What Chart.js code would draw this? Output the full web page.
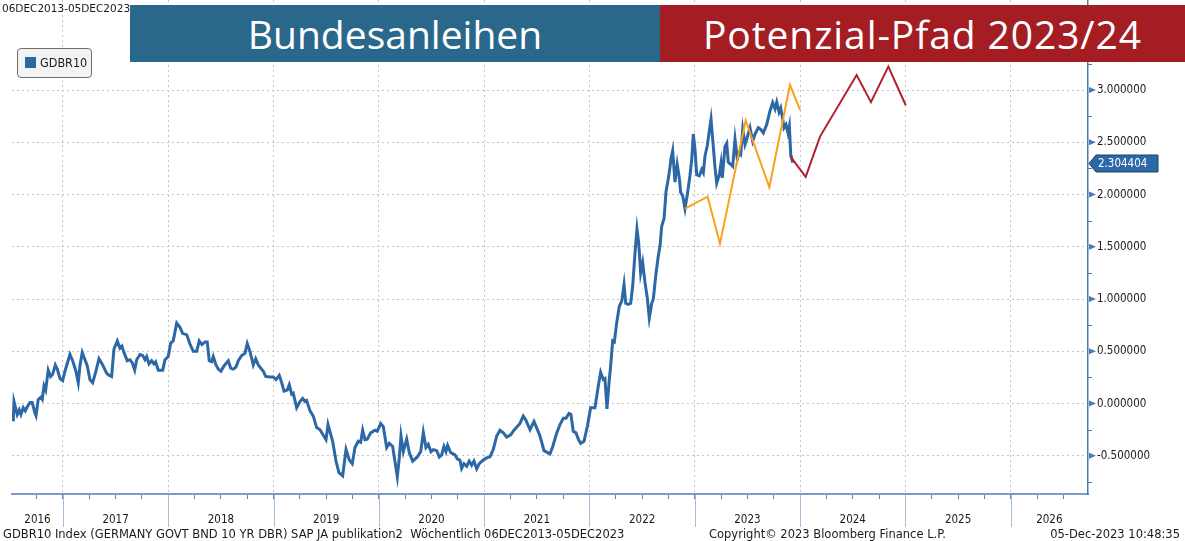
<!DOCTYPE html>
<html>
<head>
<meta charset="utf-8">
<script src="https://cdn.jsdelivr.net/npm/chart.js@4.4.0/dist/chart.umd.min.js"></script>
<style>
  body { margin: 0; background: #fff; overflow: hidden; }
  #wrap { position: relative; width: 1185px; height: 541px; }
  #wrap canvas { position: absolute; left: 0; top: 0; }
  .txt { position: absolute; font-family: "DejaVu Sans", sans-serif; font-size: 11.5px; color: #1a1a1a; white-space: nowrap; }
  .ban { position: absolute; top: 5px; height: 57px; line-height: 57px; color: #fff; text-align: center;
         font-family: "Open Sans", "Noto Sans", sans-serif; font-size: 39px; }
  #legend { position: absolute; left: 17px; top: 48px; width: 75px; height: 30px; box-sizing: border-box;
            border: 1px solid #6f6f6f; border-radius: 4px; background: #f3f3f3; }
  #legend .sw { position: absolute; left: 7px; top: 8px; width: 11px; height: 11px; background: #2c67a6; }
  #legend .lb { position: absolute; left: 22px; top: 6px; font-family: "DejaVu Sans Condensed", "DejaVu Sans", sans-serif; font-size: 12.5px; color: #1a1a1a; }
</style>
</head>
<body>
<div id="wrap">
  <canvas id="mycanvas" width="1185" height="541"></canvas>
  <div class="txt" style="left:2px;top:2px;font-size:10.5px;">06DEC2013-05DEC2023</div>
  <div class="ban" style="left:130px;width:530px;background:#29688b;">Bundesanleihen</div>
  <div class="ban" style="left:660px;width:525px;background:#a31d23;letter-spacing:0.9px;">Potenzial-Pfad 2023/24</div>
  <div id="legend"><div class="sw"></div><div class="lb">GDBR10</div></div>
  <div class="txt" style="left:3px;top:527px;">GDBR10 Index (GERMANY GOVT BND 10 YR DBR) SAP JA publikation2&nbsp; Wöchentlich 06DEC2013-05DEC2023</div>
  <div class="txt" style="left:709px;top:527px;">Copyright© 2023 Bloomberg Finance L.P.</div>
  <div class="txt" style="right:5px;top:527px;">05-Dec-2023 10:48:35</div>
</div>
<script>
// weekly GDBR10 yield (decimal year, %)
var gdbrDates = [
  2016.528, 2016.535, 2016.566, 2016.585, 2016.601, 2016.623, 2016.642, 2016.661, 2016.687, 2016.708,
  2016.734, 2016.744, 2016.765, 2016.788, 2016.803, 2016.820, 2016.836, 2016.860, 2016.883, 2016.902,
  2016.927, 2016.946, 2016.972, 2016.997, 2017.019, 2017.066, 2017.092, 2017.123, 2017.145, 2017.161,
  2017.183, 2017.209, 2017.231, 2017.256, 2017.282, 2017.313, 2017.342, 2017.377, 2017.415, 2017.440,
  2017.462, 2017.484, 2017.516, 2017.541, 2017.560, 2017.579, 2017.611, 2017.636, 2017.658, 2017.681,
  2017.700, 2017.731, 2017.757, 2017.779, 2017.795, 2017.817, 2017.842, 2017.864, 2017.880, 2017.905,
  2017.947, 2017.969, 2018.000, 2018.023, 2018.047, 2018.080, 2018.111, 2018.137, 2018.175, 2018.206,
  2018.237, 2018.270, 2018.294, 2018.320, 2018.349, 2018.370, 2018.389, 2018.412, 2018.427, 2018.453,
  2018.475, 2018.500, 2018.529, 2018.570, 2018.593, 2018.617, 2018.643, 2018.665, 2018.697, 2018.728,
  2018.750, 2018.776, 2018.807, 2018.830, 2018.855, 2018.902, 2018.925, 2018.966, 2018.997, 2019.023,
  2019.054, 2019.077, 2019.099, 2019.130, 2019.149, 2019.172, 2019.187, 2019.219, 2019.251, 2019.276,
  2019.298, 2019.314, 2019.346, 2019.377, 2019.409, 2019.441, 2019.498, 2019.517, 2019.561, 2019.593,
  2019.621, 2019.656, 2019.688, 2019.719, 2019.747, 2019.773, 2019.804, 2019.827, 2019.846, 2019.868,
  2019.890, 2019.922, 2019.963, 2019.985, 2020.017, 2020.042, 2020.074, 2020.099, 2020.131, 2020.175,
  2020.194, 2020.210, 2020.232, 2020.264, 2020.289, 2020.321, 2020.365, 2020.397, 2020.422, 2020.447,
  2020.469, 2020.495, 2020.517, 2020.549, 2020.574, 2020.596, 2020.618, 2020.637, 2020.653, 2020.682,
  2020.723, 2020.745, 2020.770, 2020.786, 2020.808, 2020.834, 2020.858, 2020.881, 2020.903, 2020.929,
  2020.953, 2020.991, 2021.024, 2021.055, 2021.086, 2021.119, 2021.150, 2021.181, 2021.214, 2021.252,
  2021.283, 2021.314, 2021.340, 2021.371, 2021.397, 2021.435, 2021.473, 2021.530, 2021.568, 2021.625,
  2021.651, 2021.689, 2021.720, 2021.751, 2021.777, 2021.805, 2021.824, 2021.846, 2021.872, 2021.894,
  2021.916, 2021.948, 2021.979, 2022.011, 2022.052, 2022.084, 2022.106, 2022.131, 2022.147, 2022.166,
  2022.188, 2022.201, 2022.220, 2022.236, 2022.258, 2022.283, 2022.306, 2022.328, 2022.344, 2022.368,
  2022.391, 2022.410, 2022.432, 2022.451, 2022.467, 2022.486, 2022.505, 2022.527, 2022.549, 2022.568,
  2022.591, 2022.606, 2022.632, 2022.653, 2022.670, 2022.686, 2022.708, 2022.727, 2022.748, 2022.764,
  2022.774, 2022.790, 2022.812, 2022.833, 2022.853, 2022.866, 2022.885, 2022.907, 2022.929, 2022.954,
  2022.971, 2022.986, 2023.002, 2023.018, 2023.043, 2023.066, 2023.081, 2023.097, 2023.119, 2023.138,
  2023.154, 2023.170, 2023.192, 2023.208, 2023.233, 2023.249, 2023.261, 2023.287, 2023.303, 2023.318,
  2023.341, 2023.360, 2023.382, 2023.404, 2023.423, 2023.436, 2023.455, 2023.477, 2023.493, 2023.524,
  2023.550, 2023.572, 2023.603, 2023.626, 2023.651, 2023.683, 2023.714, 2023.740, 2023.762, 2023.778,
  2023.800, 2023.816, 2023.835, 2023.847, 2023.866, 2023.885, 2023.898, 2023.911, 2023.930
];
var gdbrYields = [
  -0.17, 0.02, -0.105, -0.06, -0.105, -0.04, -0.07, -0.03, 0.01, 0.01,
  -0.09, -0.115, 0.04, 0.06, 0.04, 0.17, 0.13, 0.32, 0.26, 0.28,
  0.37, 0.33, 0.24, 0.22, 0.31, 0.47, 0.41, 0.31, 0.20, 0.36,
  0.49, 0.42, 0.36, 0.23, 0.20, 0.31, 0.43, 0.37, 0.29, 0.27,
  0.26, 0.52, 0.60, 0.53, 0.55, 0.49, 0.41, 0.42, 0.39, 0.32,
  0.42, 0.47, 0.46, 0.42, 0.45, 0.38, 0.41, 0.38, 0.40, 0.32,
  0.32, 0.42, 0.45, 0.58, 0.60, 0.77, 0.73, 0.67, 0.66, 0.57,
  0.50, 0.50, 0.60, 0.565, 0.59, 0.59, 0.41, 0.40, 0.45, 0.37,
  0.33, 0.31, 0.36, 0.41, 0.34, 0.33, 0.35, 0.41, 0.46, 0.48,
  0.575, 0.50, 0.37, 0.43, 0.37, 0.31, 0.26, 0.255, 0.255, 0.23,
  0.27, 0.20, 0.12, 0.13, 0.18, 0.09, 0.10, -0.04, 0.02, 0.05,
  0.02, 0.03, -0.07, -0.12, -0.23, -0.25, -0.345, -0.20, -0.36, -0.55,
  -0.66, -0.69, -0.44, -0.54, -0.575, -0.42, -0.36, -0.37, -0.255, -0.345,
  -0.34, -0.28, -0.255, -0.265, -0.19, -0.22, -0.42, -0.38, -0.41, -0.70,
  -0.52, -0.31, -0.46, -0.34, -0.47, -0.55, -0.51, -0.46, -0.275, -0.42,
  -0.39, -0.46, -0.44, -0.45, -0.51, -0.49, -0.41, -0.46, -0.40, -0.47,
  -0.49, -0.53, -0.54, -0.62, -0.575, -0.60, -0.55, -0.59, -0.55, -0.625,
  -0.575, -0.54, -0.52, -0.51, -0.44, -0.31, -0.255, -0.28, -0.32, -0.30,
  -0.255, -0.22, -0.19, -0.12, -0.16, -0.25, -0.17, -0.31, -0.45, -0.48,
  -0.41, -0.28, -0.20, -0.14, -0.14, -0.095, -0.105, -0.265, -0.28, -0.34,
  -0.38, -0.36, -0.22, -0.04, -0.04, 0.17, 0.30, 0.23, 0.24, -0.05,
  0.23, 0.36, 0.60, 0.59, 0.77, 0.93, 0.98, 1.14, 0.96, 0.95,
  0.96, 1.12, 1.44, 1.67, 1.54, 1.25, 1.35, 1.16, 1.01, 0.82,
  0.96, 1.00, 1.25, 1.41, 1.51, 1.70, 1.77, 2.03, 2.15, 2.26,
  2.34, 2.42, 2.12, 2.29, 2.16, 2.02, 1.99, 1.865, 2.00, 2.18,
  2.34, 2.58, 2.43, 2.19, 2.18, 2.24, 2.21, 2.37, 2.47, 2.61,
  2.72, 2.53, 2.26, 2.11, 2.19, 2.30, 2.16, 2.46, 2.49, 2.31,
  2.29, 2.27, 2.53, 2.34, 2.40, 2.385, 2.625, 2.48, 2.53, 2.64,
  2.51, 2.58, 2.64, 2.625, 2.59, 2.67, 2.80, 2.88, 2.82, 2.885,
  2.79, 2.83, 2.72, 2.64, 2.67, 2.59, 2.655, 2.385, 2.304404
];

// hand-drawn paths
var orangeDates = [2022.907, 2023.122, 2023.239, 2023.483, 2023.708, 2023.904, 2023.999];
var orangeYields = [1.865, 1.98, 1.53, 2.71, 2.07, 3.05, 2.81];
var pfadDates = [2023.904, 2024.053, 2024.189, 2024.537, 2024.673, 2024.838, 2025.003];
var pfadYields = [2.37, 2.17, 2.555, 3.145, 2.885, 3.225, 2.855];

var yearLabels = [2016, 2017, 2018, 2019, 2020, 2021, 2022, 2023, 2024, 2025, 2026];
var yTicks = [-0.5, 0, 0.5, 1.0, 1.5, 2.0, 2.5, 3.0];

var xMin = 2016.516, xMax = 2026.734;
var yMin = -0.865, yMax = 3.862;

var tickFont = { family: '"DejaVu Sans Condensed", "DejaVu Sans", sans-serif', size: 11.5 };
var gridGrey = '#c4c4c4';
var axisBlue = '#4a7ab5';

function pts(xs, ys) {
  return xs.map(function (t, i) { return { x: t, y: ys[i] }; });
}
function isMajor(v) { return yTicks.indexOf(v) !== -1; }
function noPad(s) { s.paddingTop = 0; s.paddingBottom = 0; s.paddingLeft = 0; s.paddingRight = 0; }

// separators, arrow ticks and the last value tag
var bbgDecor = {
  id: 'bbgDecor',
  afterDraw: function (chart) {
    var ctx = chart.ctx, area = chart.chartArea, x = chart.scales.x, y = chart.scales.y;
    ctx.save();
    ctx.strokeStyle = '#a9bdd6';
    ctx.lineWidth = 1;
    for (var yr = Math.ceil(x.min); yr <= x.max; yr++) {
      var px = Math.round(x.getPixelForValue(yr)) + 0.5;
      ctx.beginPath(); ctx.moveTo(px, area.bottom + 1); ctx.lineTo(px, area.bottom + 33); ctx.stroke();
    }
    ctx.strokeStyle = axisBlue;
    ctx.fillStyle = axisBlue;
    y.ticks.forEach(function (t) {
      var py = y.getPixelForValue(t.value);
      if (isMajor(t.value)) {
        ctx.beginPath();
        ctx.moveTo(area.right + 1, py - 3); ctx.lineTo(area.right + 8, py); ctx.lineTo(area.right + 1, py + 3);
        ctx.closePath(); ctx.fill();
      } else {
        py = Math.round(py) + 0.5;
        ctx.beginPath(); ctx.moveTo(area.right, py); ctx.lineTo(area.right + 4, py); ctx.stroke();
      }
    });
    var last = gdbrYields[gdbrYields.length - 1];
    var ty = Math.round(y.getPixelForValue(last)) + 0.5;
    var l = area.right + 1, r = l + 69, h = 17;
    ctx.beginPath();
    ctx.moveTo(l, ty); ctx.lineTo(l + 7, ty - h / 2); ctx.lineTo(r, ty - h / 2);
    ctx.lineTo(r, ty + h / 2); ctx.lineTo(l + 7, ty + h / 2); ctx.closePath();
    ctx.fillStyle = '#2d68a6'; ctx.fill();
    ctx.strokeStyle = '#1d426b'; ctx.stroke();
    ctx.fillStyle = '#ffffff';
    ctx.font = '11.5px ' + tickFont.family;
    ctx.textBaseline = 'middle';
    ctx.fillText(last.toFixed(6), l + 9, ty + 1);
    ctx.restore();
  }
};

var ctx = document.getElementById('mycanvas');
var chart = new Chart(ctx, {
  type: 'line',
  data: {
    datasets: [
      { label: 'GDBR10', data: pts(gdbrDates, gdbrYields), borderColor: '#2c67a6', borderWidth: 3, pointRadius: 0, order: 3 },
      { label: 'Pfad 2023', data: pts(orangeDates, orangeYields), borderColor: '#f9a11b', borderWidth: 2, pointRadius: 0, order: 2 },
      { label: 'Potenzial-Pfad', data: pts(pfadDates, pfadYields), borderColor: '#b3202f', borderWidth: 2, pointRadius: 0, order: 1 }
    ]
  },
  options: {
    responsive: false,
    animation: false,
    devicePixelRatio: 1,
    layout: { padding: { left: 12, top: 0, right: 0, bottom: 0 } },
    plugins: { legend: { display: false }, tooltip: { enabled: false } },
    scales: {
      x: {
        type: 'linear', position: 'bottom', weight: 1, min: xMin, max: xMax,
        afterBuildTicks: function (s) {
          var t = [];
          for (var q = Math.ceil(s.min * 4) / 4; q <= s.max; q += 0.25) t.push({ value: q });
          s.ticks = t;
        },
        afterFit: function (s) { s.height = 6; noPad(s); },
        ticks: { display: false },
        grid: {
          color: function (c) { return c.tick && Number.isInteger(c.tick.value) ? gridGrey : 'transparent'; },
          tickColor: '#5a86bd', tickLength: 5, lineWidth: 1
        },
        border: { display: true, color: '#7b9cc6', width: 2, dash: [2, 3] }
      },
      x2: {
        type: 'linear', position: 'bottom', weight: 2, min: xMin, max: xMax,
        afterBuildTicks: function (s) {
          s.ticks = yearLabels.map(function (yr) {
            return { value: (Math.max(yr, xMin) + Math.min(yr + 1, xMax)) / 2 };
          });
        },
        afterFit: function (s) { s.height = 41; noPad(s); },
        ticks: {
          autoSkip: false, maxRotation: 0, padding: 5, font: tickFont, color: '#1a1a1a',
          callback: function (v) { return String(Math.floor(v)); }
        },
        grid: { display: false },
        border: { display: false }
      },
      y: {
        type: 'linear', position: 'right', min: yMin, max: yMax,
        afterBuildTicks: function (s) {
          var t = [];
          yTicks.forEach(function (v) { t.push({ value: v }); t.push({ value: v + 0.25 }); });
          t.push({ value: yTicks[0] - 0.25 });
          s.ticks = t.filter(function (k) { return k.value >= s.min && k.value <= s.max; })
                     .sort(function (a, b) { return a.value - b.value; });
        },
        afterFit: function (s) { s.width = 97; noPad(s); },
        ticks: {
          autoSkip: false, padding: 1, font: tickFont, color: '#1a1a1a',
          callback: function (v) { return isMajor(v) ? v.toFixed(6) : ''; }
        },
        grid: {
          color: function (c) { return c.tick && isMajor(c.tick.value) ? gridGrey : 'transparent'; },
          tickColor: 'transparent', tickLength: 8
        },
        border: { display: true, color: axisBlue, width: 1.5, dash: [2, 3] }
      }
    }
  },
  plugins: [bbgDecor]
});
</script>
</body>
</html>
